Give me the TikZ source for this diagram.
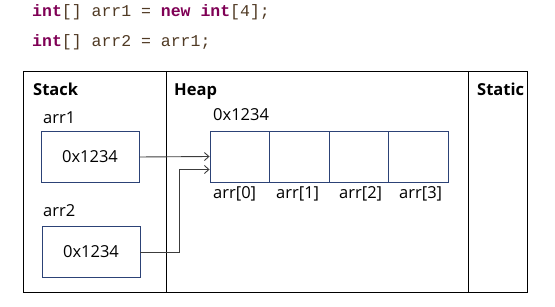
\documentclass[tikz,border=0pt]{standalone}
\usepackage{fontspec}
\usepackage{xcolor}
\usetikzlibrary{arrows.meta}
\setmainfont{Open Sans}
\newfontfamily\codefont{Liberation Mono}
\definecolor{kwcolor}{RGB}{127,0,85}
\definecolor{codecolor}{RGB}{80,58,36}
\definecolor{boxcolor}{RGB}{44,66,118}
\definecolor{linkcolor}{RGB}{60,60,60}

\tikzset{
  txt/.style={inner sep=0pt, anchor=base west, font=\fontsize{16.5}{20}\selectfont},
  head/.style={txt, font=\fontsize{16.5}{20}\selectfont\bfseries},
  code/.style={inner sep=0pt, anchor=base west, text=codecolor, font=\codefont\fontsize{16.5}{20}\selectfont},
  varbox/.style={draw=boxcolor, line width=0.9pt, minimum width=98pt, minimum height=51pt, inner sep=0pt, font=\fontsize{16.5}{20}\selectfont},
  cellbox/.style={draw=boxcolor, line width=0.9pt, minimum width=59.5pt, minimum height=51pt, inner sep=0pt},
  link/.style={draw=linkcolor, line width=0.9pt, -{Straight Barb[length=4.5pt,width=8pt]}}
}
\newcommand{\kw}[1]{\textcolor{kwcolor}{\textbf{#1}}}

\begin{document}
\begin{tikzpicture}[x=1pt,y=-1pt]
  \useasboundingbox (0,0) rectangle (555,307);
  % source lines
  \node[code] (line1) at (32,17) {\kw{int}[] arr1 = \kw{new} \kw{int}[4];};
  \node[code] (line2) at (32,47) {\kw{int}[] arr2 = arr1;};

  % memory areas
  \draw[line width=0.9pt] (23,71) rectangle (527,292);
  \draw[line width=0.9pt] (166,71) -- (166,292)
   (468,71) -- (468,292);
  \node[head] (stack) at (33,96) {Stack};
  \node[head] (heap) at (174,96) {Heap};
  \node[head] (static) at (477,96) {Static};

  % variables on the stack
  \node[txt] (arr1) at (43,124) {arr1};
  \node[varbox] (v1) at (90,157) {0x1234};
  \node[txt] (arr2) at (43,217) {arr2};
  \node[varbox] (v2) at (91,252) {0x1234};

  % array object on the heap
  \node[txt] (addr) at (213,121) {0x1234};
  \foreach \i/\lx in {0/213,1/276,2/339,3/399} {
    \node[cellbox] (cell\i) at (239.75+59.5*\i,156.5) {};
    \node[txt] (idx\i) at (\lx,199) {arr[\i]};
  }

  % references
  \draw[link] (v1.east) -- (cell0.west);
  \draw[link] (v2.east) -- ++(39,0) |- ([yshift=-13pt]cell0.west);
\end{tikzpicture}
\end{document}
